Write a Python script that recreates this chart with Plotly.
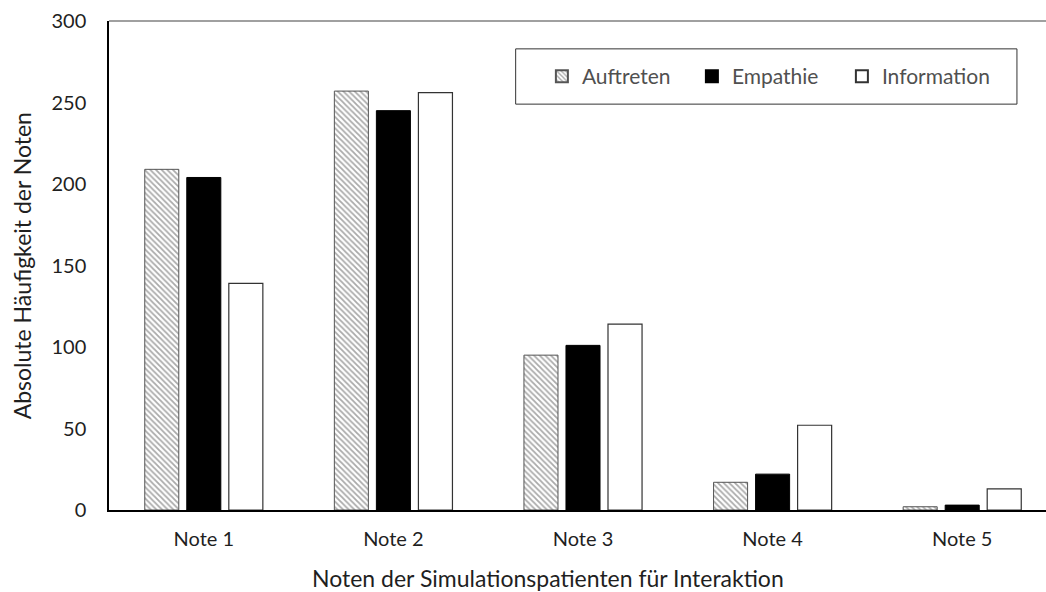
import plotly.graph_objects as go

# Grade categories and absolute counts per rating dimension
categories = ["Note 1", "Note 2", "Note 3", "Note 4", "Note 5"]
auftreten = [209, 257, 95, 17, 2]
empathie = [204, 245, 101, 22, 3]
information = [139, 256, 114, 52, 13]

y_ticks = [0, 50, 100, 150, 200, 250, 300]

FONT = "Lato, 'Open Sans', sans-serif"
TEXT = "#1f1f1f"

fig = go.Figure()
fig.add_trace(go.Bar(
    x=categories, y=auftreten, name="Auftreten",
    marker=dict(color="white", line=dict(color="#555555", width=1),
                pattern=dict(shape="\\", fgcolor="#555555", bgcolor="white",
                             size=4, solidity=0.45)),
))
fig.add_trace(go.Bar(
    x=categories, y=empathie, name="Empathie",
    marker=dict(color="black", line=dict(color="black", width=1)),
))
fig.add_trace(go.Bar(
    x=categories, y=information, name="Information",
    marker=dict(color="white", line=dict(color="#333333", width=1.2)),
))

fig.update_layout(
    width=1046, height=592,
    margin=dict(l=109, r=0, t=21, b=82),
    paper_bgcolor="white", plot_bgcolor="white",
    font=dict(family=FONT, size=20, color=TEXT),
    barmode="group", bargap=0.335, bargroupgap=0.19,
    showlegend=True,
    legend=dict(
        orientation="h", x=0.462, y=0.8865, xanchor="left", yanchor="middle",
        borderwidth=0, bgcolor="rgba(0,0,0,0)",
        font=dict(size=21, color="#505050"),
        entrywidth=105, itemsizing="constant",
    ),
    xaxis=dict(
        # plot area runs slightly past the right edge, as in the source chart
        range=[-0.5, 4.442], showline=True, linecolor="black", linewidth=1.5,
        ticks="", showgrid=False, ticklabelstandoff=10,
        tickfont=dict(size=20, color=TEXT),
    ),
    yaxis=dict(
        range=[0, 300], tickvals=y_ticks, showline=True, linecolor="black",
        linewidth=1.5, ticks="", showgrid=False, zeroline=False,
        ticklabelstandoff=17, tickfont=dict(size=20, color=TEXT),
    ),
    shapes=[
        dict(type="line", xref="paper", yref="paper", x0=0, x1=1, y0=1, y1=1,
             line=dict(color="#808080", width=1.5)),
        # legend frame
        dict(type="rect", xref="paper", yref="paper", x0=0.434, x1=0.969,
             y0=0.830, y1=0.943, line=dict(color="#333333", width=1),
             fillcolor="white", layer="below"),
    ],
    annotations=[
        dict(text="Noten der Simulationspatienten für Interaktion", xref="paper",
             yref="paper", x=0.468, y=-0.139, xanchor="center", yanchor="middle",
             showarrow=False, font=dict(size=23, color=TEXT)),
        dict(text="Absolute Häufigkeit der Noten", xref="paper", yref="paper",
             x=-0.093, y=0.5, xanchor="center", yanchor="middle", textangle=-90,
             showarrow=False, font=dict(size=23, color=TEXT)),
    ],
)

fig.write_html("out.html", config={"displayModeBar": False},
               post_script="document.body.style.margin='0';")
